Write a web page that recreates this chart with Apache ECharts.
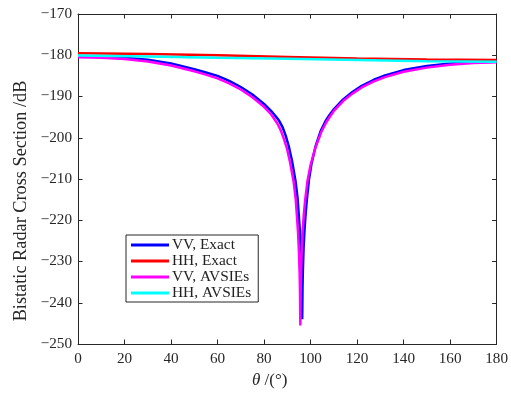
<!DOCTYPE html>
<html>
<head>
<meta charset="utf-8">
<script src="https://cdn.jsdelivr.net/npm/echarts@6/dist/echarts.min.js"></script>
<style>html,body{margin:0;padding:0;background:#fff}#c{width:511px;height:393px}</style>
</head>
<body>
<div id="c"></div>
<script>
// ---- data ----
var seriesNames = ['VV, Exact', 'HH, Exact', 'VV, AVSIEs', 'HH, AVSIEs'];
var xTicks = [0, 20, 40, 60, 80, 100, 120, 140, 160, 180];
var yTicks = [-250, -240, -230, -220, -210, -200, -190, -180, -170];

var thetaVVExact = [0, 10, 20, 30, 40, 50, 55, 60, 65, 70, 75, 80, 83, 85, 86.5, 88, 89.3, 90.6, 92, 93.5, 94.4, 94.9, 95.4, 95.8, 96.1, 96.25, 96.4,
  96.55, 96.7, 97.0, 97.4, 97.9, 98.4, 99.3, 100.4, 102.2, 104.4, 106.4, 108, 110, 114, 118, 122, 127, 132, 140, 150, 160, 170, 180];
var vvExact = [-180.3, -180.35, -180.6, -181.1, -182.0, -183.4, -184.2, -185.0, -186.2, -187.7, -189.5, -191.8, -193.5, -194.8, -195.9, -197.5, -199.5, -202.0, -205.5, -210.4, -214.6, -218.5, -222.6, -227.5, -232.5, -236.5, -244.0,
  -236.0, -232.0, -226.6, -222.3, -218.3, -215.0, -210.2, -206.3, -202.0, -198.3, -196.0, -194.6, -193.1, -190.7, -188.9, -187.4, -186.0, -184.9, -183.6, -182.6, -182.0, -181.7, -181.6];

var thetaVVAvsie = [0, 10, 20, 30, 40, 50, 55, 60, 65, 70, 75, 80, 83, 84.5, 85.8, 87.2, 88.5, 89.8, 91.2, 92.7, 93.6, 94.1, 94.6, 95.0, 95.3, 95.45, 95.6,
  95.75, 95.9, 96.2, 96.6, 97.1, 97.7, 98.7, 100.0, 102.1, 104.6, 106.7, 108.3, 110, 114, 118, 122, 127, 132, 140, 150, 160, 170, 180];
var vvAvsie = [-180.5, -180.6, -180.9, -181.5, -182.5, -183.9, -184.7, -185.6, -186.8, -188.3, -190.2, -192.5, -194.3, -195.5, -196.6, -198.2, -200.2, -202.5, -206.0, -210.6, -214.8, -218.7, -222.8, -227.7, -232.7, -237.0, -245.5,
  -237.0, -232.5, -227.0, -222.6, -218.6, -215.0, -210.4, -206.6, -202.4, -198.6, -196.3, -194.9, -193.5, -191.1, -189.3, -187.8, -186.4, -185.3, -184.0, -183.0, -182.3, -181.9, -181.7];

var thetaHH = [0, 30, 60, 90, 120, 150, 180];
var hhExact = [-179.5, -179.7, -180.0, -180.4, -180.8, -181.05, -181.15];
var hhAvsie = [-180.05, -180.3, -180.6, -180.85, -181.15, -181.45, -181.6];

var colors = ['#0000ff', '#ff0000', '#ff00ff', '#00ffff'];

function pairs(xs, ys) { return xs.map(function (x, i) { return [x, ys[i]]; }); }
function minus(v) { return String(v).replace('-', '\u2212'); }

var FONT = "'Liberation Serif', 'Times New Roman', serif";
var AX = '#262626';

function xAx(pos, showLabel) {
  return {
    type: 'value', position: pos, min: 0, max: 180, interval: 20,
    axisLine: { show: true, onZero: false, lineStyle: { color: AX, width: 1 } },
    axisTick: { show: true, inside: true, length: 4.5, lineStyle: { color: AX } },
    axisLabel: { show: showLabel, color: AX, fontFamily: FONT, fontSize: 15.2, margin: 8, formatter: minus },
    splitLine: { show: false }
  };
}
function yAx(pos, showLabel) {
  return {
    type: 'value', position: pos, min: -250, max: -170, interval: 10,
    axisLine: { show: true, onZero: false, lineStyle: { color: AX, width: 1 } },
    axisTick: { show: true, inside: true, length: 4.5, lineStyle: { color: AX } },
    axisLabel: { show: showLabel, color: AX, fontFamily: FONT, fontSize: 15.2, margin: 6, formatter: minus },
    splitLine: { show: false }
  };
}

var data = [pairs(thetaVVExact, vvExact), pairs(thetaHH, hhExact), pairs(thetaVVAvsie, vvAvsie), pairs(thetaHH, hhAvsie)];

var chart = echarts.init(document.getElementById('c'), null, { renderer: 'canvas' });
chart.setOption({
  backgroundColor: '#fff',
  animation: false,
  grid: { left: 78, right: 12, top: 14, bottom: 49 },
  xAxis: [xAx('bottom', true), xAx('top', false)],
  yAxis: [yAx('left', true), yAx('right', false)],
  legend: {
    orient: 'vertical', left: 126, top: 235,
    data: seriesNames.map(function (n) { return { name: n, icon: 'rect' }; }),
    itemWidth: 38, itemHeight: 3, itemGap: 0,
    padding: [2, 7, 1, 5],
    borderColor: AX, borderWidth: 1, backgroundColor: '#fff',
    textStyle: { fontFamily: FONT, fontSize: 15.4, color: '#222', lineHeight: 16, padding: [0, 0, 0, -2] }
  },
  series: seriesNames.map(function (n, i) {
    return {
      name: n, type: 'line', data: data[i], showSymbol: false, symbol: 'none',
      lineStyle: { color: colors[i], width: 2.5 }, itemStyle: { color: colors[i] },
      xAxisIndex: 0, yAxisIndex: 0, z: 2 + i
    };
  }),
  graphic: [
    {
      type: 'text', x: 21, y: 201, rotation: Math.PI / 2,
      style: { text: 'Bistatic Radar Cross Section /dB', fill: AX, font: "18.3px " + FONT, align: 'center', verticalAlign: 'middle' }
    },
    {
      type: 'text', x: 252, y: 381,
      style: {
        text: '{i|\u03b8} /(\u00b0)', fill: AX, font: "17px " + FONT, align: 'left', verticalAlign: 'middle',
        rich: { i: { fontStyle: 'italic', fontFamily: FONT, fontSize: 17, fill: AX } }
      }
    }
  ]
});
</script>
</body>
</html>
